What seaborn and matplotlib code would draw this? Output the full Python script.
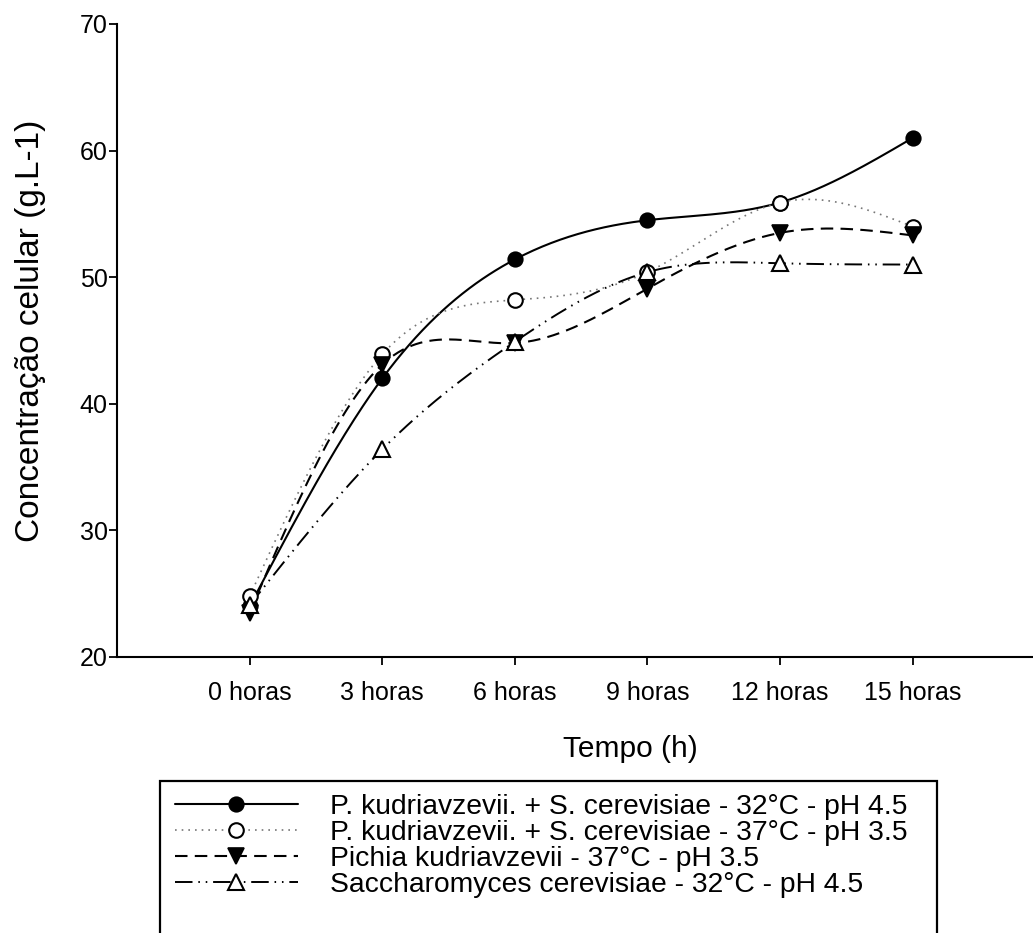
import numpy as np
import pandas as pd
import matplotlib
matplotlib.use("Agg")
import matplotlib.pyplot as plt
from matplotlib.lines import Line2D
from matplotlib.patches import Rectangle
import seaborn as sns

# ---- data ----
categories = ["0 horas", "3 horas", "6 horas", "9 horas", "12 horas", "15 horas"]
s1_label = "P. kudriavzevii. + S. cerevisiae - 32°C - pH 4.5"
s2_label = "P. kudriavzevii. + S. cerevisiae - 37°C - pH 3.5"
s3_label = "Pichia kudriavzevii - 37°C - pH 3.5"
s4_label = "Saccharomyces cerevisiae - 32°C - pH 4.5"
s1_values = [24.0, 42.0, 51.4, 54.5, 55.9, 61.0]
s2_values = [24.8, 43.9, 48.2, 50.4, 55.9, 54.0]
s3_values = [23.5, 43.1, 44.8, 49.1, 53.5, 53.3]
s4_values = [24.1, 36.4, 44.9, 50.4, 51.1, 51.0]
y_label = "Concentração celular (g.L-1)"
x_label = "Tempo (h)"

sns.set_theme(style="ticks")
plt.rcParams["font.family"] = ["Liberation Sans", "DejaVu Sans"]
plt.rcParams["text.color"] = "black"
plt.rcParams["axes.labelcolor"] = "black"
plt.rcParams["xtick.color"] = "black"
plt.rcParams["ytick.color"] = "black"


def natural_spline(x, y, n=300):
    x = np.asarray(x, float)
    y = np.asarray(y, float)
    k = len(x)
    h = np.diff(x)
    A = np.zeros((k, k))
    b = np.zeros(k)
    A[0, 0] = 1
    A[-1, -1] = 1
    for i in range(1, k - 1):
        A[i, i - 1] = h[i - 1]
        A[i, i] = 2 * (h[i - 1] + h[i])
        A[i, i + 1] = h[i]
        b[i] = 3 * ((y[i + 1] - y[i]) / h[i] - (y[i] - y[i - 1]) / h[i - 1])
    c = np.linalg.solve(A, b)
    xs = np.linspace(x[0], x[-1], n)
    ys = np.empty_like(xs)
    for j, xv in enumerate(xs):
        i = min(np.searchsorted(x, xv, side="right") - 1, k - 2)
        bi = (y[i + 1] - y[i]) / h[i] - h[i] * (2 * c[i] + c[i + 1]) / 3
        di = (c[i + 1] - c[i]) / (3 * h[i])
        t = xv - x[i]
        ys[j] = y[i] + bi * t + c[i] * t ** 2 + di * t ** 3
    return xs, ys


W, H = 1033, 933
fig = plt.figure(figsize=(W / 100, H / 100), dpi=100)
ax = fig.add_axes([117 / W, 1 - 657 / H, 915 / W, (657 - 24) / H])

xpos = np.arange(len(categories))
series = [
    (s1_values, s1_label, dict(color="black", ls="-", lw=1.5),
     dict(marker="o", ms=10.5, mfc="black", mec="black", mew=1.2)),
    (s2_values, s2_label, dict(color="#777777", ls=(0, (1, 3)), lw=1.2),
     dict(marker="o", ms=10.5, mfc="white", mec="black", mew=1.5)),
    (s3_values, s3_label, dict(color="black", ls=(0, (6, 3.5)), lw=1.5),
     dict(marker="v", ms=11, mfc="black", mec="black", mew=1.2)),
    (s4_values, s4_label, dict(color="black", ls=(0, (9, 3, 0.8, 3, 0.8, 3)), lw=1.4),
     dict(marker="^", ms=11, mfc="white", mec="black", mew=1.5)),
]

handles = []
for vals, lab, lstyle, mstyle in series:
    xs, ys = natural_spline(xpos, vals)
    sns.lineplot(x=xs, y=ys, ax=ax, sort=False, estimator=None,
                 color=lstyle["color"], linestyle=lstyle["ls"], lw=lstyle["lw"],
                 legend=False, zorder=2)
    ax.plot(xpos, vals, ls="none", zorder=3, **mstyle)
    handles.append(Line2D([], [], color=lstyle["color"], linestyle=lstyle["ls"],
                          lw=lstyle["lw"], label=lab, **mstyle))

ax.set_xlim(-1, 5.9)
ax.set_ylim(20, 70)
ax.set_yticks([20, 30, 40, 50, 60, 70])
ax.set_xticks(xpos)
ax.set_xticklabels(categories)
ax.tick_params(axis="both", direction="out", length=6, width=1.3, colors="black",
               labelsize=18)
ax.tick_params(axis="y", pad=0.8)
ax.tick_params(axis="x", pad=11)
for s in ["top", "right"]:
    ax.spines[s].set_visible(False)
for s in ["left", "bottom"]:
    ax.spines[s].set_linewidth(1.5)
    ax.spines[s].set_color("black")

ax.set_ylabel(y_label, fontsize=24, color="black")
ax.yaxis.set_label_coords(-0.0776, 0.515)
ax.set_xlabel(x_label, fontsize=21.5, color="black")
ax.xaxis.set_label_coords(0.561, -0.123)

leg = fig.legend(handles=handles, loc="upper left",
                 bbox_to_anchor=(175 / W, 1 - 794 / H),
                 frameon=False, fontsize=20.3, numpoints=1,
                 handlelength=4.36, handletextpad=1.13, labelspacing=0.0,
                 borderpad=0, borderaxespad=0)
for t in leg.get_texts():
    t.set_color("black")

fig.patches.append(Rectangle((160 / W, -0.05), (937 - 160) / W, (1 - 781 / H) + 0.05,
                             transform=fig.transFigure, fill=False, lw=1.6,
                             edgecolor="black", clip_on=False))

fig.savefig("out.png", dpi=100)
